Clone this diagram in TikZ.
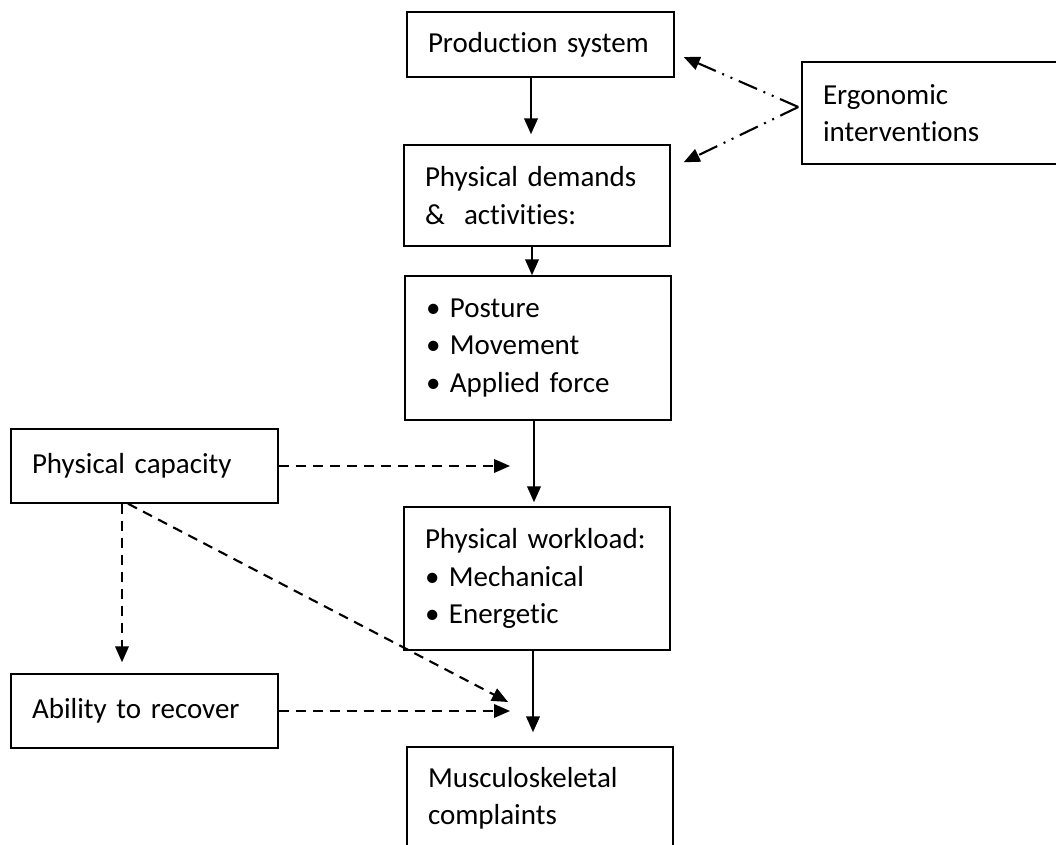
\documentclass[tikz,border=0pt]{standalone}
\usepackage{fontspec}
\setmainfont{Carlito}[Ligatures=NoCommon]
\usetikzlibrary{arrows.meta}

\newcommand{\itembul}{\makebox[13.6pt][l]{\textbullet}}

\tikzset{
  box/.style={draw, line width=0.8pt, inner xsep=0.42cm, align=left,
    font=\fontsize{16.5}{21.3}\selectfont},
  arr/.style={-{Triangle[length=0.32cm,width=0.27cm]}, line width=1.3pt},
  darr/.style={arr, line width=1.2pt, dash pattern=on 0.2cm off 0.14cm},
  ddarr/.style={arr, line width=1.2pt,
    dash pattern=on 0.4cm off 0.14cm on 0.04cm off 0.14cm on 0.04cm off 0.14cm}
}

\begin{document}
\begin{tikzpicture}[scale=1]
  \useasboundingbox (0,0) rectangle (21.12,-16.9);
  \clip (0,0) rectangle (21.12,-16.9);
  % boxes
  \node[box, text width=4.5cm, minimum height=1.30cm] (prod) at (10.81,-0.89) {Production system};
  \node[box, text width=4.32cm, minimum height=2.04cm] (ergo) at (18.62,-2.26) {Ergonomic\\interventions};
  \node[box, text width=4.48cm, minimum height=2.02cm] (demand) at (10.74,-3.91) {Physical demands\\\&\ \ activities:};
  \node[box, text width=4.48cm, minimum height=2.88cm] (activ) at (10.76,-6.96) {\itembul Posture\\\itembul Movement\\\itembul Applied force};
  \node[box, text width=4.5cm, minimum height=1.48cm] (capac) at (2.89,-9.32) {Physical capacity};
  \node[box, text width=4.48cm, minimum height=2.86cm] (load) at (10.74,-11.57) {Physical workload:\\\itembul Mechanical\\\itembul Energetic};
  \node[box, text width=4.5cm, minimum height=1.48cm] (recov) at (2.89,-14.22) {Ability to recover};
  \node[box, text width=4.48cm, minimum height=2.06cm] (msk) at (10.80,-15.97) {Musculoskeletal\\complaints};
  % free ends
  \coordinate (ej) at ([xshift=-0.06cm,yshift=0.12cm]ergo.west);
  \coordinate (loadin) at (10.2,-9.36);
  \coordinate (complin) at (10.16,-14.04);
  % main chain
  \draw[arr, shorten >=0.2cm] ([xshift=-0.19cm]prod.south) -- ([xshift=-0.19cm]prod.south |- demand.north);
  \draw[arr] ([xshift=-0.1cm]demand.south) -- ([xshift=-0.1cm]demand.south |- activ.north);
  \draw[arr, shorten >=0.08cm] ([xshift=-0.08cm]activ.south) -- ([xshift=-0.08cm]activ.south |- load.north);
  \draw[arr, shorten >=0.28cm] ([xshift=-0.08cm]load.south) -- ([xshift=-0.08cm]load.south |- msk.north);
  % interventions
  \draw[ddarr] (ej) -- ([xshift=0.18cm,yshift=-0.25cm]prod.east);
  \draw[ddarr] (ej) -- ([xshift=0.26cm,yshift=-0.36cm]demand.north east);
  % capacity and recovery
  \draw[darr] (capac.east) -- (capac.east -| loadin);
  \draw[darr, shorten >=0.22cm] ([xshift=-0.45cm]capac.south) -- ([xshift=-0.45cm]capac.south |- recov.north);
  \draw[darr] ([xshift=-0.33cm]capac.south) -- (complin);
  \draw[darr] (recov.east) -- (recov.east -| loadin);
\end{tikzpicture}
\end{document}
